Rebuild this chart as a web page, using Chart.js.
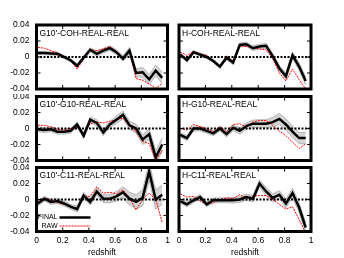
<!DOCTYPE html>
<html>
<head>
<meta charset="utf-8">
<script src="https://cdn.jsdelivr.net/npm/chart.js@4.4.0/dist/chart.umd.min.js"></script>
<style>
    html, body { margin: 0; padding: 0; background: #fff; }
    #wrap { position: relative; width: 344px; height: 258px; overflow: hidden; }
    #wrap canvas { position: absolute; }
</style>
</head>
<body>
<div id="wrap"></div>
<script>
// ===================================
// Data
// ===================================

const redshift = [0.01, 0.06, 0.11, 0.16, 0.21, 0.26, 0.31, 0.36, 0.41, 0.46,
                  0.51, 0.56, 0.61, 0.66, 0.71, 0.76, 0.81, 0.86, 0.91, 0.96];
const xTicks = [0, 0.2, 0.4, 0.6, 0.8, 1];
const yTicks = [0.04, 0.02, 0, -0.02, -0.04];

const panelTitles = ["G10'-COH-REAL-REAL", 'H-COH-REAL-REAL',
                     "G10'-G10-REAL-REAL", 'H-G10-REAL-REAL',
                     "G10'-C11-REAL-REAL", 'H-C11-REAL-REAL'];

// FINAL (black), RAW (red), half width of grey band
const finalG10Coh = [0.005, 0.005, 0.0045, 0.004, 0.000, -0.004, -0.011, -0.001, 0.009, 0.004,
                     0.008, 0.011, 0.006, -0.002, 0.008, -0.020, -0.019, -0.028, -0.017, -0.026];
const rawG10Coh   = [0.012, 0.011, 0.008, 0.005, 0.001, -0.004, -0.015, -0.002, 0.009, 0.008,
                     0.010, 0.013, 0.007, -0.003, 0.007, -0.027, -0.029, -0.034, -0.039, -0.033];
const errG10Coh   = [0.002, 0.002, 0.002, 0.002, 0.002, 0.002, 0.0025, 0.0025, 0.0025, 0.003,
                     0.003, 0.003, 0.003, 0.0035, 0.004, 0.005, 0.006, 0.006, 0.007, 0.007];

const finalHCoh = [0.003, -0.004, 0.006, 0.003, 0.000, -0.005, -0.012, -0.001, -0.007, 0.015,
                   0.016, 0.011, 0.013, 0.014, 0.001, -0.014, -0.024, 0.002, -0.012, -0.030];
const rawHCoh   = [0.006, 0.002, 0.007, 0.004, 0.002, -0.005, -0.011, 0.001, -0.005, 0.014,
                   0.013, 0.012, 0.010, 0.009, -0.002, -0.020, -0.030, -0.015, -0.028, -0.040];
const errHCoh   = [0.002, 0.002, 0.002, 0.002, 0.002, 0.002, 0.002, 0.0025, 0.0025, 0.0025,
                   0.0025, 0.003, 0.003, 0.003, 0.003, 0.0035, 0.004, 0.004, 0.0045, 0.005];

const finalG10G10 = [-0.001, -0.002, -0.001, -0.004, -0.004, -0.003, 0.005, -0.009, 0.011, 0.007,
                     -0.005, 0.005, 0.011, 0.017, 0.004, 0.000, -0.014, -0.007, -0.036, -0.020];
const rawG10G10   = [0.004, 0.004, 0.002, -0.001, -0.002, 0.000, 0.001, -0.005, 0.006, 0.008,
                     0.007, 0.009, 0.011, 0.013, 0.003, -0.004, -0.016, -0.019, -0.040, -0.027];
const errG10G10   = [0.003, 0.003, 0.003, 0.003, 0.003, 0.003, 0.003, 0.0035, 0.0035, 0.004,
                     0.004, 0.004, 0.0045, 0.005, 0.005, 0.0055, 0.006, 0.007, 0.008, 0.008];

const finalHG10 = [-0.008, -0.012, 0.000, 0.000, -0.003, -0.006, 0.000, -0.007, 0.001, -0.003,
                   0.003, 0.006, 0.006, 0.006, 0.008, 0.012, 0.005, -0.004, -0.012, -0.012];
const rawHG10   = [0.000, -0.002, 0.005, 0.002, 0.000, -0.004, 0.002, -0.004, 0.005, 0.006,
                   0.002, 0.008, 0.010, 0.010, 0.004, -0.003, -0.009, -0.017, -0.025, -0.019];
const errHG10   = [0.003, 0.003, 0.003, 0.003, 0.003, 0.003, 0.003, 0.0035, 0.0035, 0.004,
                   0.004, 0.0045, 0.005, 0.005, 0.006, 0.007, 0.007, 0.007, 0.007, 0.007];

const finalG10C11 = [-0.005, 0.001, -0.003, -0.002, -0.005, -0.009, -0.012, 0.005, -0.003, 0.010,
                     0.001, 0.001, 0.004, 0.009, 0.001, -0.003, 0.002, 0.035, 0.000, 0.006];
const rawG10C11   = [-0.003, 0.002, -0.001, -0.004, -0.006, -0.009, -0.011, 0.004, 0.004, 0.016,
                     0.008, 0.009, 0.007, 0.012, 0.002, -0.013, 0.000, 0.008, 0.000, -0.029];
const errG10C11   = [0.003, 0.003, 0.003, 0.003, 0.003, 0.003, 0.0035, 0.004, 0.004, 0.0045,
                     0.005, 0.005, 0.006, 0.007, 0.008, 0.009, 0.010, 0.011, 0.012, 0.012];

const finalHC11 = [-0.002, -0.006, -0.001, 0.003, -0.006, -0.001, -0.001, -0.001, -0.001, 0.000,
                   0.003, 0.001, 0.020, 0.010, 0.002, 0.006, -0.005, 0.008, -0.010, -0.035];
const rawHC11   = [0.007, 0.003, 0.004, -0.002, -0.006, -0.004, 0.000, 0.002, 0.001, 0.006,
                   0.002, 0.004, 0.005, 0.005, 0.000, -0.006, -0.012, -0.009, -0.025, -0.042];
const errHC11   = [0.003, 0.003, 0.003, 0.003, 0.003, 0.003, 0.003, 0.003, 0.0035, 0.0035,
                   0.004, 0.004, 0.0045, 0.005, 0.005, 0.005, 0.0055, 0.006, 0.006, 0.006];

const finalSeries = [finalG10Coh, finalHCoh, finalG10G10, finalHG10, finalG10C11, finalHC11];
const rawSeries   = [rawG10Coh, rawHCoh, rawG10G10, rawHG10, rawG10C11, rawHC11];
const errSeries   = [errG10Coh, errHCoh, errG10G10, errHG10, errG10C11, errHC11];

// ===================================
// Layout (canvas boxes and plot-area margins)
// ===================================

const FONT = '"Liberation Sans", Arial, Helvetica, sans-serif';
const colBoxes = [
    { left: 0,   width: 172, axisW: 36.5, padRight: 4.5 },
    { left: 172, width: 172, axisW: 7,    padRight: 33 }
];
const rowBoxes = [
    { top: 0,   height: 94, padTop: 25,  axisH: 5 },
    { top: 94,  height: 70, padTop: 2.5, axisH: 3.5 },
    { top: 164, height: 94, padTop: 3.5, axisH: 26.5 }
];

// draws frame, inward ticks, dotted zero line, panel title and legend
const panelDeco = {
    id: 'panelDeco',
    afterDatasetsDraw(chart) {
        const { ctx, chartArea: a, scales } = chart;
        const y0 = scales.y.getPixelForValue(0);
        ctx.save();
        ctx.beginPath();
        ctx.rect(a.left, a.top, a.right - a.left, a.bottom - a.top);
        ctx.clip();
        ctx.strokeStyle = '#000';
        ctx.lineWidth = 2;
        ctx.setLineDash([2, 1.5]);
        ctx.beginPath();
        ctx.moveTo(a.left, y0);
        ctx.lineTo(a.right, y0);
        ctx.stroke();
        ctx.restore();
    },
    afterDraw(chart, args, opts) {
        const { ctx, chartArea: a, scales } = chart;
        ctx.save();

        // inward tick marks on all four sides
        ctx.strokeStyle = '#000';
        ctx.lineWidth = 1;
        ctx.beginPath();
        xTicks.forEach(v => {
            const px = scales.x.getPixelForValue(v);
            ctx.moveTo(px, a.top); ctx.lineTo(px, a.top + 4);
            ctx.moveTo(px, a.bottom); ctx.lineTo(px, a.bottom - 4);
        });
        yTicks.forEach(v => {
            const py = scales.y.getPixelForValue(v);
            ctx.moveTo(a.left, py); ctx.lineTo(a.left + 4, py);
            ctx.moveTo(a.right, py); ctx.lineTo(a.right - 4, py);
        });
        ctx.stroke();

        // thick frame
        ctx.lineWidth = 3;
        ctx.strokeRect(a.left, a.top, a.right - a.left, a.bottom - a.top);

        // title
        ctx.fillStyle = '#000';
        ctx.font = '8.5px ' + FONT;
        ctx.textAlign = 'left';
        ctx.textBaseline = 'middle';
        ctx.fillText(opts.title, a.left + 3, a.top + 8.5);

        // legend (only one panel has it)
        if (opts.legend) {
            const sets = chart.data.datasets;
            const items = [sets[0], sets[1]];
            ctx.font = '7px ' + FONT;
            items.forEach((ds, i) => {
                const yy = a.top + 50 + i * 8.5;
                ctx.textAlign = 'right';
                ctx.fillStyle = '#000';
                ctx.setLineDash([]);
                ctx.fillText(ds.label, a.left + 21, yy);
                ctx.strokeStyle = ds.borderColor;
                ctx.lineWidth = ds.borderWidth;
                ctx.setLineDash(ds.borderDash || []);
                ctx.beginPath();
                ctx.moveTo(a.left + 23, yy);
                ctx.lineTo(a.left + 54, yy);
                ctx.stroke();
            });
        }
        ctx.restore();
    }
};

function toPoints(values) {
    return values.map((v, i) => ({ x: redshift[i], y: v }));
}

function buildPanel(index) {
    const col = colBoxes[index % 2];
    const row = rowBoxes[Math.floor(index / 2)];
    const isBottom = index >= 4;
    const isLeft = index % 2 === 0;

    const canvas = document.createElement('canvas');
    canvas.width = col.width;
    canvas.height = row.height;
    canvas.style.left = col.left + 'px';
    canvas.style.top = row.top + 'px';
    document.getElementById('wrap').appendChild(canvas);

    const fin = finalSeries[index];
    const raw = rawSeries[index];
    const err = errSeries[index];

    return new Chart(canvas.getContext('2d'), {
        type: 'line',
        data: {
            datasets: [
                {
                    label: 'FINAL',
                    data: toPoints(fin),
                    borderColor: '#000',
                    borderWidth: 2.5,
                    pointRadius: 0,
                    tension: 0,
                    order: 0
                },
                {
                    label: 'RAW',
                    data: toPoints(raw),
                    borderColor: '#ff0000',
                    borderWidth: 1,
                    borderDash: [2, 1],
                    pointRadius: 0,
                    tension: 0,
                    order: 1
                },
                {
                    label: 'upper',
                    data: toPoints(fin.map((v, i) => v + err[i])),
                    borderColor: '#a8a8a8',
                    borderWidth: 0.8,
                    pointRadius: 0,
                    tension: 0,
                    order: 2
                },
                {
                    label: 'lower',
                    data: toPoints(fin.map((v, i) => v - err[i])),
                    borderColor: '#a8a8a8',
                    borderWidth: 0.8,
                    backgroundColor: '#d4d4d4',
                    fill: '-1',
                    pointRadius: 0,
                    tension: 0,
                    order: 3
                }
            ]
        },
        options: {
            responsive: false,
            animation: false,
            events: [],
            layout: { padding: { top: row.padTop, right: col.padRight, left: 0, bottom: 0 } },
            plugins: {
                legend: { display: false },
                tooltip: { enabled: false },
                panelDeco: { title: panelTitles[index], legend: index === 4 }
            },
            scales: {
                x: {
                    type: 'linear',
                    min: 0,
                    max: 1,
                    grid: { display: false, drawTicks: false },
                    border: { display: false },
                    afterBuildTicks: scale => { scale.ticks = xTicks.map(v => ({ value: v })); },
                    afterFit: scale => {
                        scale.height = row.axisH;
                        scale.paddingLeft = 0;
                        scale.paddingRight = 0;
                    },
                    ticks: {
                        display: isBottom,
                        padding: 4,
                        color: '#000',
                        font: { family: FONT, size: 8.5 },
                        maxRotation: 0,
                        callback: v => String(v)
                    },
                    title: {
                        display: isBottom,
                        text: 'redshift',
                        color: '#000',
                        padding: { top: 0, bottom: 0 },
                        font: { family: FONT, size: 8.5 }
                    }
                },
                y: {
                    type: 'linear',
                    min: -0.04,
                    max: 0.04,
                    grid: { display: false, drawTicks: false },
                    border: { display: false },
                    afterBuildTicks: scale => { scale.ticks = yTicks.map(v => ({ value: v })); },
                    afterFit: scale => {
                        scale.width = col.axisW;
                        scale.paddingTop = 0;
                        scale.paddingBottom = 0;
                    },
                    ticks: {
                        display: isLeft,
                        padding: 7,
                        color: '#000',
                        font: { family: FONT, size: 8.5 },
                        callback: v => String(v)
                    }
                }
            }
        },
        plugins: [panelDeco]
    });
}

const panels = panelTitles.map((t, i) => buildPanel(i));
</script>
</body>
</html>
